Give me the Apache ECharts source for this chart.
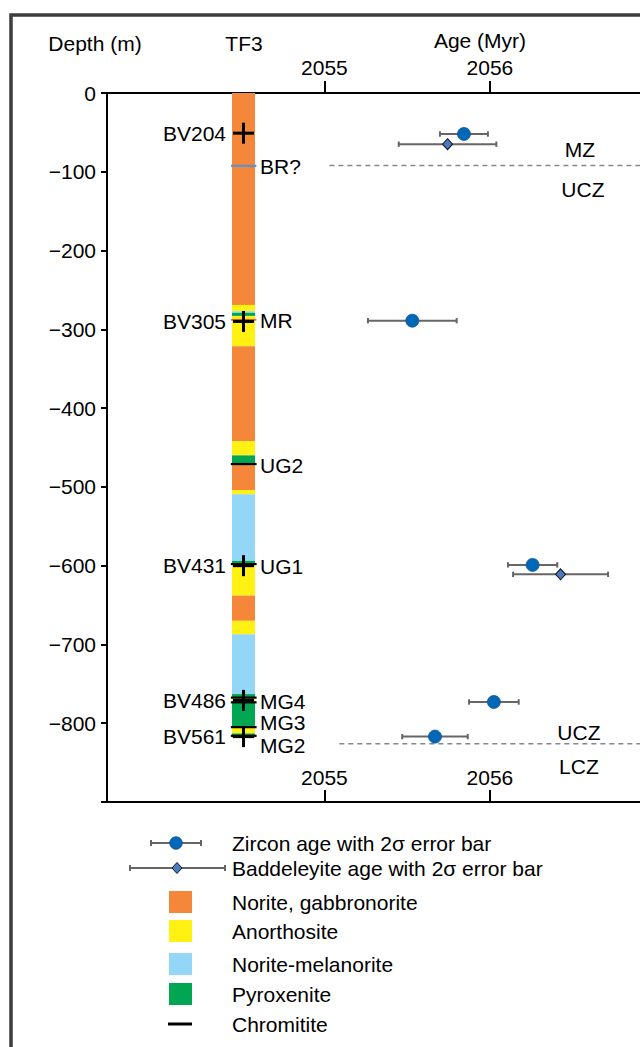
<!DOCTYPE html>
<html>
<head>
<meta charset="utf-8">
<script src="https://cdn.jsdelivr.net/npm/echarts@6/dist/echarts.min.js"></script>
<style>html,body{margin:0;padding:0;background:#fff}#c{width:640px;height:1047px}</style>
</head>
<body>
<div id="c"></div>
<script>
// ---------------- data ----------------
const ageTicks = [2055, 2056];
const ageMin = 2053.686;
const ageMax = 2056.907;
const depthMin = -900;
const depthMax = 0;

const samples = ['BV204', 'BV305', 'BV431', 'BV486', 'BV561'];
const sampleDepth = [-51, -290, -600, -771, -817];

const zirconAge = [2055.843, 2055.531, 2056.258, 2056.024, 2055.668];
const zirconErr = [0.145, 0.268, 0.149, 0.150, 0.198];
const zirconDepth = [-52, -289, -599, -773, -817];

const baddAge = [2055.744, 2056.427];
const baddErr = [0.295, 0.287];
const baddDepth = [-65, -611];

const rockNames = ['Norite, gabbronorite', 'Anorthosite', 'Norite-melanorite', 'Pyroxenite'];
const rockColors = ['#f5873a', '#fff212', '#94d6f5', '#00a651'];

const layerTop =    [0,   269, 277, 279, 283,   321.5, 442, 460, 471, 504,   509.5, 594, 599, 638, 670, 687, 763,   768.5, 772.5, 805, 813];
const layerBottom = [269, 277, 279, 283, 321.5, 442,   460, 471, 504, 509.5, 594,   599, 638, 670, 687, 763, 768.5, 772.5, 805,   813, 818];
const layerRock =   [0,   1,   2,   3,   1,     0,     1,   3,   0,   1,     2,     3,   1,   0,   1,   2,   3,     1,     3,     1,   3];

const chromititeDepth = [-471, -598, -767.5, -773.5, -805, -816];
const markerNames = ['BR?', 'MR'];
const markerDepth = [-92.5, -288];
const markerColors = ['#6d8fbf', '#e5413b'];

const unitNames = ['BR?', 'MR', 'UG2', 'UG1', 'MG4', 'MG3', 'MG2'];
const unitDepth = [-93, -289, -473, -601, -772, -799, -828];

const zoneBoundaryDepth = [-92, -826];
const zoneBoundaryStart = [2055.03, 2055.09];

const zoneNames = ['MZ', 'UCZ', 'UCZ', 'LCZ'];
const zoneAge = [2056.544, 2056.562, 2056.538, 2056.538];
const zoneDepth = [-72, -123, -812, -855];

const legendLabels = ['Zircon age with 2\u03c3 error bar', 'Baddeleyite age with 2\u03c3 error bar'];

// ---------------- styles ----------------
const FONT = '"Liberation Sans", Arial, Helvetica, sans-serif';
const FS = 21;
const font = FS + 'px ' + FONT;
const BAR = '#666666';

const chart = echarts.init(document.getElementById('c'), null, {renderer: 'svg'});

function errRender(capH) {
  return function (params, api) {
    const a = api.value(0), d = api.value(1), e = api.value(2);
    const p = api.coord([a, d]);
    const x1 = api.coord([a - e, d])[0];
    const x2 = api.coord([a + e, d])[0];
    const st = {stroke: BAR, lineWidth: 2};
    return {type: 'group', children: [
      {type: 'line', shape: {x1: x1, y1: p[1], x2: x2, y2: p[1]}, style: st},
      {type: 'line', shape: {x1: x1, y1: p[1] - capH, x2: x1, y2: p[1] + capH}, style: st},
      {type: 'line', shape: {x1: x2, y1: p[1] - capH, x2: x2, y2: p[1] + capH}, style: st}
    ]};
  };
}

function textRender(getX, align) {
  return function (params, api) {
    const p = api.coord([api.value(0), api.value(1)]);
    return {type: 'text', x: getX(p), y: p[1], style: {
      text: api.value(2), font: font, fill: '#000', align: align, verticalAlign: 'middle',
      textAlign: align, textVerticalAlign: 'middle', lineHeight: 18
    }};
  };
}

// legend graphics
const legendG = [];
const lgY = [843, 868];
// zircon
legendG.push({type: 'line', shape: {x1: 151, y1: lgY[0], x2: 201, y2: lgY[0]}, style: {stroke: BAR, lineWidth: 2}});
legendG.push({type: 'line', shape: {x1: 151, y1: lgY[0] - 3, x2: 151, y2: lgY[0] + 3}, style: {stroke: BAR, lineWidth: 2}});
legendG.push({type: 'line', shape: {x1: 201, y1: lgY[0] - 3, x2: 201, y2: lgY[0] + 3}, style: {stroke: BAR, lineWidth: 2}});
legendG.push({type: 'circle', shape: {cx: 176, cy: lgY[0], r: 6.3}, style: {fill: '#0068b7', stroke: '#1b5590', lineWidth: 0.8}});
// baddeleyite
legendG.push({type: 'line', shape: {x1: 130, y1: lgY[1], x2: 225, y2: lgY[1]}, style: {stroke: BAR, lineWidth: 2}});
legendG.push({type: 'line', shape: {x1: 130, y1: lgY[1] - 3, x2: 130, y2: lgY[1] + 3}, style: {stroke: BAR, lineWidth: 2}});
legendG.push({type: 'line', shape: {x1: 225, y1: lgY[1] - 3, x2: 225, y2: lgY[1] + 3}, style: {stroke: BAR, lineWidth: 2}});
legendG.push({type: 'polygon', shape: {points: [[177, lgY[1] - 5.5], [182, lgY[1]], [177, lgY[1] + 5.5], [172, lgY[1]]]}, style: {fill: '#4a7cc0', stroke: '#111', lineWidth: 1}});
legendLabels.forEach((t, i) => legendG.push({type: 'text', x: 232, y: lgY[i], style: {text: t, font: font, fill: '#000', align: 'left', verticalAlign: 'middle', lineHeight: 20}}));
const rockY = [902, 931, 964, 994];
rockNames.forEach((n, i) => {
  legendG.push({type: 'rect', shape: {x: 169, y: rockY[i] - 11, width: 23, height: 22}, style: {fill: rockColors[i]}});
  legendG.push({type: 'text', x: 232, y: rockY[i], style: {text: n, font: font, fill: '#000', align: 'left', verticalAlign: 'middle'}});
});
legendG.push({type: 'line', shape: {x1: 168, y1: 1024, x2: 192, y2: 1024}, style: {stroke: '#000', lineWidth: 3}});
legendG.push({type: 'text', x: 232, y: 1024, style: {text: 'Chromitite', font: font, fill: '#000', align: 'left', verticalAlign: 'middle'}});

const option = {
  backgroundColor: '#fff',
  animation: false,
  textStyle: {fontFamily: FONT},
  grid: [
    {left: 107, top: 93, right: 0, height: 709, containLabel: false},
    {left: 232, top: 93, width: 23, height: 709, containLabel: false}
  ],
  xAxis: [
    {gridIndex: 0, type: 'value', position: 'top', min: ageMin, max: ageMax,
      axisLine: {show: true, onZero: false, lineStyle: {color: '#000', width: 2}},
      axisTick: {show: true, customValues: ageTicks, length: 12, lineStyle: {color: '#000', width: 2}},
      axisLabel: {show: true, customValues: ageTicks, margin: 15, fontSize: FS, color: '#000', fontFamily: FONT,
        formatter: v => String(v)},
      splitLine: {show: false}},
    {gridIndex: 0, type: 'value', position: 'bottom', min: ageMin, max: ageMax,
      axisLine: {show: true, onZero: false, lineStyle: {color: '#000', width: 2}},
      axisTick: {show: true, inside: true, customValues: ageTicks, length: 12, lineStyle: {color: '#000', width: 2}},
      axisLabel: {show: true, inside: true, customValues: ageTicks, margin: 14, fontSize: FS, color: '#000', fontFamily: FONT,
        formatter: v => String(v)},
      splitLine: {show: false}},
    {gridIndex: 1, type: 'value', min: 0, max: 1, show: false}
  ],
  yAxis: [
    {gridIndex: 0, type: 'value', min: depthMin, max: depthMax, interval: 100,
      axisLine: {show: true, onZero: false, lineStyle: {color: '#000', width: 2}},
      axisTick: {show: true, length: 6, lineStyle: {color: '#000', width: 2}},
      axisLabel: {show: true, margin: 11, fontSize: FS, color: '#000', fontFamily: FONT,
        formatter: v => v === depthMin ? '' : (v < 0 ? '\u2212' + Math.abs(v) : String(v))},
      splitLine: {show: false}},
    {gridIndex: 1, type: 'value', min: depthMin, max: depthMax, show: false}
  ],
  graphic: [
    {type: 'rect', shape: {x: 11, y: 15, width: 900, height: 1200}, style: {fill: 'none', stroke: '#3d3d3d', lineWidth: 3.5}, z: 100},
    {type: 'text', x: 95, y: 43, style: {text: 'Depth (m)', font: font, fill: '#000', align: 'center', verticalAlign: 'middle'}},
    {type: 'text', x: 244, y: 43, style: {text: 'TF3', font: font, fill: '#000', align: 'center', verticalAlign: 'middle'}},
    {type: 'text', x: 480, y: 40, style: {text: 'Age (Myr)', font: font, fill: '#000', align: 'center', verticalAlign: 'middle'}}
  ].concat(legendG),
  series: [
    // stratigraphic column layers
    {type: 'custom', xAxisIndex: 2, yAxisIndex: 1, clip: false, z: 2,
      data: layerTop.map((t, i) => [-t, -layerBottom[i], layerRock[i]]),
      renderItem: function (params, api) {
        const p1 = api.coord([0, api.value(0)]);
        const p2 = api.coord([1, api.value(1)]);
        return {type: 'rect', shape: {x: p1[0], y: p1[1], width: p2[0] - p1[0], height: p2[1] - p1[1]},
          style: {fill: rockColors[api.value(2)]}};
      }},
    // marker horizons BR?, MR
    {type: 'custom', xAxisIndex: 2, yAxisIndex: 1, clip: false, z: 3,
      data: markerDepth.map((d, i) => [d, i]),
      renderItem: function (params, api) {
        const a = api.coord([-0.04, api.value(0)]);
        const b = api.coord([1.06, api.value(0)]);
        return {type: 'line', shape: {x1: a[0], y1: a[1], x2: b[0], y2: b[1]},
          style: {stroke: markerColors[api.value(1)], lineWidth: api.value(1) === 0 ? 2.5 : 1.5}};
      }},
    // chromitite
    {type: 'custom', xAxisIndex: 2, yAxisIndex: 1, clip: false, z: 4,
      data: chromititeDepth.map(d => [d]),
      renderItem: function (params, api) {
        const a = api.coord([-0.05, api.value(0)]);
        const b = api.coord([1.07, api.value(0)]);
        return {type: 'line', shape: {x1: a[0], y1: a[1], x2: b[0], y2: b[1]}, style: {stroke: '#000', lineWidth: 2.2}};
      }},
    // sample crosses
    {type: 'custom', xAxisIndex: 2, yAxisIndex: 1, clip: false, z: 5,
      data: sampleDepth.map(d => [0.5, d]),
      renderItem: function (params, api) {
        const p = api.coord([api.value(0), api.value(1)]);
        const h = 10.5;
        return {type: 'group', children: [
          {type: 'line', shape: {x1: p[0] - h, y1: p[1], x2: p[0] + h, y2: p[1]}, style: {stroke: '#000', lineWidth: 3}},
          {type: 'line', shape: {x1: p[0], y1: p[1] - h, x2: p[0], y2: p[1] + h}, style: {stroke: '#000', lineWidth: 3}}
        ]};
      }},
    // sample labels
    {type: 'custom', xAxisIndex: 2, yAxisIndex: 1, clip: false, z: 6,
      data: samples.map((s, i) => [0, sampleDepth[i], s]),
      dimensions: ['x', 'y', {name: 'label', type: 'ordinal'}],
      renderItem: textRender(p => p[0] - 6, 'right')},
    // unit labels
    {type: 'custom', xAxisIndex: 2, yAxisIndex: 1, clip: false, z: 6,
      data: unitNames.map((s, i) => [1, unitDepth[i], s]),
      dimensions: ['x', 'y', {name: 'label', type: 'ordinal'}],
      renderItem: textRender(p => p[0] + 5, 'left')},
    // zone boundaries
    ...zoneBoundaryDepth.map((d, i) => ({
      type: 'line', xAxisIndex: 0, yAxisIndex: 0, symbol: 'none', silent: true, z: 2,
      data: [[zoneBoundaryStart[i], d], [ageMax, d]],
      lineStyle: {color: '#888', width: 1.5, type: [5, 4]}
    })),
    // zone labels
    {type: 'custom', xAxisIndex: 0, yAxisIndex: 0, clip: false, z: 6,
      data: zoneNames.map((s, i) => [zoneAge[i], zoneDepth[i], s]),
      dimensions: ['x', 'y', {name: 'label', type: 'ordinal'}],
      renderItem: textRender(p => p[0], 'center')},
    // error bars
    {type: 'custom', xAxisIndex: 0, yAxisIndex: 0, z: 7, clip: false,
      data: zirconAge.map((a, i) => [a, zirconDepth[i], zirconErr[i]]),
      renderItem: errRender(2.7)},
    {type: 'custom', xAxisIndex: 0, yAxisIndex: 0, z: 7, clip: false,
      data: baddAge.map((a, i) => [a, baddDepth[i], baddErr[i]]),
      renderItem: errRender(2.7)},
    // points
    {name: legendLabels[0], type: 'scatter', xAxisIndex: 0, yAxisIndex: 0, z: 8,
      symbol: 'circle', symbolSize: 13,
      itemStyle: {color: '#0068b7', borderColor: '#1b5590', borderWidth: 0.8, opacity: 1},
      data: zirconAge.map((a, i) => [a, zirconDepth[i]])},
    {name: legendLabels[1], type: 'scatter', xAxisIndex: 0, yAxisIndex: 0, z: 9,
      symbol: 'diamond', symbolSize: [10, 11],
      itemStyle: {color: '#4a7cc0', borderColor: '#111', borderWidth: 1, opacity: 1},
      data: baddAge.map((a, i) => [a, baddDepth[i]])}
  ]
};
chart.setOption(option);
</script>
</body>
</html>
